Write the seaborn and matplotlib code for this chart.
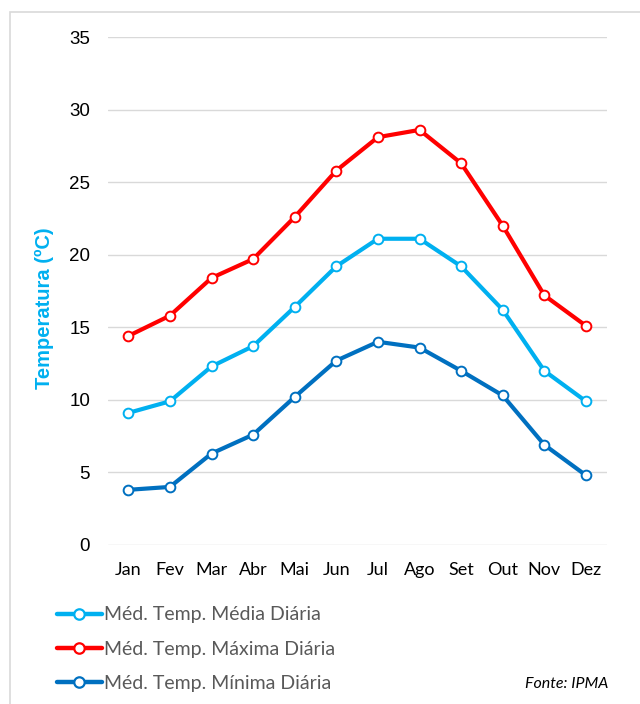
import pandas as pd
import matplotlib
matplotlib.use('Agg')
import matplotlib.pyplot as plt
from matplotlib.patches import Rectangle
import seaborn as sns

# Monthly data
months = ['Jan', 'Fev', 'Mar', 'Abr', 'Mai', 'Jun', 'Jul', 'Ago', 'Set', 'Out', 'Nov', 'Dez']
temp_media = [9.1, 9.9, 12.3, 13.7, 16.4, 19.2, 21.1, 21.1, 19.2, 16.2, 12.0, 9.9]
temp_maxima = [14.4, 15.8, 18.4, 19.7, 22.6, 25.8, 28.1, 28.6, 26.3, 22.0, 17.2, 15.1]
temp_minima = [3.8, 4.0, 6.3, 7.6, 10.2, 12.7, 14.0, 13.6, 12.0, 10.3, 6.9, 4.8]

series_names = ['Méd. Temp. Média Diária', 'Méd. Temp. Máxima Diária', 'Méd. Temp. Mínima Diária']
series_colors = ['#00B0F0', '#FF0000', '#0070C0']

df = pd.DataFrame({'Mes': months,
                   series_names[0]: temp_media,
                   series_names[1]: temp_maxima,
                   series_names[2]: temp_minima})
long_df = df.melt(id_vars='Mes', var_name='Serie', value_name='Temp')

sns.set_style('white')
plt.rcParams['font.family'] = ['Liberation Sans', 'DejaVu Sans']

fig = plt.figure(figsize=(6.4, 7.04), dpi=100)
ax = fig.add_axes([0.168, 0.2259, 0.780, 0.7215])

# outer chart border
fig.patches.append(Rectangle((10 / 640, -0.01), 1.2, (692 / 704) + 0.01,
                             transform=fig.transFigure, fill=False,
                             edgecolor='#D9D9D9', linewidth=1.2))

sns.lineplot(data=long_df, x='Mes', y='Temp', hue='Serie', hue_order=series_names,
             palette=series_colors, sort=False, linewidth=3, marker='o',
             markersize=7, markerfacecolor='white', markeredgewidth=1.4,
             legend=False, ax=ax)
# marker edges in series colour
for line, c in zip(ax.lines, series_colors):
    line.set_markeredgecolor(c)

ax.set_xlim(-0.5, 11.5)
ax.set_ylim(0, 35)
ax.set_yticks(range(0, 36, 5))
ax.grid(axis='y', color='#D9D9D9', linewidth=1)
ax.grid(axis='x', visible=False)
sns.despine(ax=ax, left=True, bottom=True, top=True, right=True)
ax.tick_params(axis='both', length=0)
ax.tick_params(axis='y', labelsize=13.5, pad=12.5, labelcolor='#000000')
ax.tick_params(axis='x', labelsize=13, pad=12, labelcolor='#000000')
for lab in ax.get_xticklabels():
    lab.set_family(['Lato', 'DejaVu Sans'])
ax.set_xlabel('')
ax.set_ylabel('Temperatura (ºC)', fontsize=14.5, fontweight='bold', color='#00B0F0')
ax.yaxis.set_label_coords(-0.108, 0.467)

# legend, placed below the chart
handles = [plt.Line2D([0], [0], color=c, linewidth=3.2, marker='o', markersize=7.5,
                      markerfacecolor='white', markeredgecolor=c, markeredgewidth=1.6)
           for c in series_colors]
leg = fig.legend(handles, series_names, loc='upper left', bbox_to_anchor=(0.089, 0.1385),
                 frameon=False, borderpad=0, borderaxespad=0, handlelength=2.3,
                 handletextpad=0.1, labelspacing=0.88,
                 prop={'family': ['Lato', 'DejaVu Sans'], 'size': 14})
for t in leg.get_texts():
    t.set_color('#595959')

fig.text(0.95, 0.028, 'Fonte: IPMA', ha='right', va='center', style='italic',
         fontsize=11.5, family=['Lato', 'DejaVu Sans'], color='#000000')

fig.savefig('out.png', dpi=100)
